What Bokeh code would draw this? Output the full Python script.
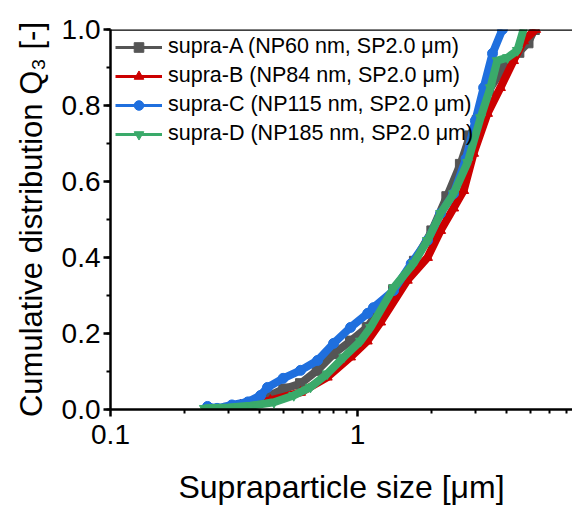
from bokeh.plotting import figure
from bokeh.models import (FixedTicker, SingleIntervalTicker, NumeralTickFormatter, Span,
                          Legend, LegendItem, Range1d)
from bokeh.embed import file_html
from bokeh.resources import INLINE

FONT = "Liberation Sans"
NAN = float("nan")

# ---- data ----
x_ticks = [0.1, 1.0]
x_minor = [0.2, 0.3, 0.4, 0.5, 0.6, 0.7, 0.8, 0.9, 2, 3, 4, 5, 6, 7]
x_tick_labels = ["0.1", "1"]

labels = ["supra-A (NP60 nm, SP2.0 \u03bcm)",
          "supra-B (NP84 nm, SP2.0 \u03bcm)",
          "supra-C (NP115 nm, SP2.0 \u03bcm)",
          "supra-D (NP185 nm, SP2.0 \u03bcm)"]
colors = ["#555555", "#cc0000", "#1f6fde", "#3aaa6a"]
markers = ["square", "triangle", "circle", "inverted_triangle"]

a_x = [0.30, 0.36, 0.42, 0.503, 0.588, 0.687, 0.802, 0.937, 1.095, 1.40, 1.70, 2.00, 2.30, 2.61, 2.85, 3.05, 3.40, 3.90, 4.50, 4.90, 5.20]
a_y = [0.003, 0.01, 0.03, 0.054, 0.068, 0.103, 0.147, 0.18, 0.216, 0.315, 0.39, 0.47, 0.56, 0.645, 0.72, 0.76, 0.84, 0.90, 0.94, 0.965, 1.0]

b_x = [0.30, 0.336, 0.444, 0.588, 0.754, 0.937, 1.095, 1.24, 1.59, 1.92, 2.17, 2.45, 2.69, 2.95, 3.36, 3.79, 4.28, 4.70, 5.26]
b_y = [0.003, 0.012, 0.024, 0.045, 0.085, 0.138, 0.18, 0.23, 0.34, 0.40, 0.471, 0.53, 0.576, 0.674, 0.779, 0.847, 0.918, 0.97, 1.0]

c_x = [0.247, 0.27, 0.31, 0.36, 0.405, 0.432, 0.50, 0.588, 0.689, 0.80, 0.937, 1.10, 1.16, 1.40, 1.65, 1.92, 2.17, 2.45, 2.75, 3.00, 3.24, 3.52, 3.86]
c_y = [0.008, 0.003, 0.012, 0.02, 0.037, 0.058, 0.082, 0.103, 0.129, 0.174, 0.216, 0.253, 0.268, 0.313, 0.384, 0.445, 0.516, 0.568, 0.66, 0.76, 0.847, 0.937, 1.0]

d_x = [0.24, 0.30, 0.369, 0.459, 0.552, 0.645, 0.754, 0.88, 1.028, 1.129, 1.40, 1.685, 1.92, 2.17, 2.45, 2.79, 3.15, 3.45, 3.68, 4.05, 4.44, 4.70]
d_y = [0.003, 0.005, 0.01, 0.019, 0.037, 0.059, 0.094, 0.138, 0.18, 0.216, 0.32, 0.384, 0.445, 0.516, 0.568, 0.65, 0.768, 0.847, 0.918, 0.926, 0.945, 1.0]

series_x = [a_x, b_x, c_x, d_x]
series_y = [a_y, b_y, c_y, d_y]

# ---- figure ----
p = figure(frame_width=462, frame_height=380, x_axis_type="log",
           x_range=Range1d(0.1, 7.42), y_range=Range1d(0, 1),
           output_backend="svg", toolbar_location=None,
           min_border_left=110, min_border_right=0, min_border_top=29, min_border_bottom=98)
p.outline_line_color = None
p.grid.visible = False
p.background_fill_color = "white"
p.border_fill_color = "white"

p.xaxis.ticker = FixedTicker(ticks=x_ticks, minor_ticks=x_minor)
p.xaxis.major_label_overrides = {t: s for t, s in zip(x_ticks, x_tick_labels)}
p.yaxis.ticker = SingleIntervalTicker(interval=0.2, num_minor_ticks=2)
p.yaxis.formatter = NumeralTickFormatter(format="0.0")

p.xaxis.axis_label = "Supraparticle size [\u03bcm]"
p.yaxis.axis_label = "Cumulative distribution Q\u2083 [-]"

for ax in p.axis:
    ax.axis_line_width = 2.5
    ax.axis_line_color = "black"
    ax.major_tick_line_width = 2.5
    ax.minor_tick_line_width = 2
    ax.major_tick_out = 7
    ax.major_tick_in = 0
    ax.minor_tick_out = 4
    ax.minor_tick_in = 0
    ax.major_label_text_font = FONT
    ax.major_label_text_font_size = "28px"
    ax.major_label_text_color = "black"
    ax.axis_label_text_font = FONT
    ax.axis_label_text_font_size = "31px"
    ax.axis_label_text_font_style = "normal"
    ax.axis_label_text_color = "black"
p.xaxis.axis_label_text_font_size = "32px"
p.yaxis.major_label_standoff = 3
p.xaxis.major_label_standoff = 8
p.xaxis.axis_label_standoff = 22
p.yaxis.axis_label_standoff = 10

p.add_layout(Span(location=1.0, dimension="width", line_color="black", line_width=2.5))

items = []
for sx, sy, col, mk, lab in zip(series_x, series_y, colors, markers, labels):
    p.line(sx, sy, line_color=col, line_width=8)
    p.scatter(sx, sy, marker=mk, size=10, fill_color=col, line_color=col)
    # legend proxies (a single undefined point, never visible in the plot)
    lr = p.line(x=[NAN], y=[NAN], line_color=col, line_width=3)
    sr = p.scatter(x=[NAN], y=[NAN], marker=mk, size=11, fill_color=col, line_color=col)
    items.append(LegendItem(label=lab, renderers=[lr, sr]))

legend = Legend(items=items, location="top_left")
legend.border_line_color = None
legend.background_fill_alpha = 0
legend.label_text_font = FONT
legend.label_text_font_size = "21.5px"
legend.label_text_color = "black"
legend.glyph_width = 47
legend.glyph_height = 24
legend.label_height = 24
legend.spacing = 4
legend.padding = 0
legend.margin = 5
legend.label_standoff = 6
p.add_layout(legend)

open("out.html", "w").write(file_html(p, INLINE))
